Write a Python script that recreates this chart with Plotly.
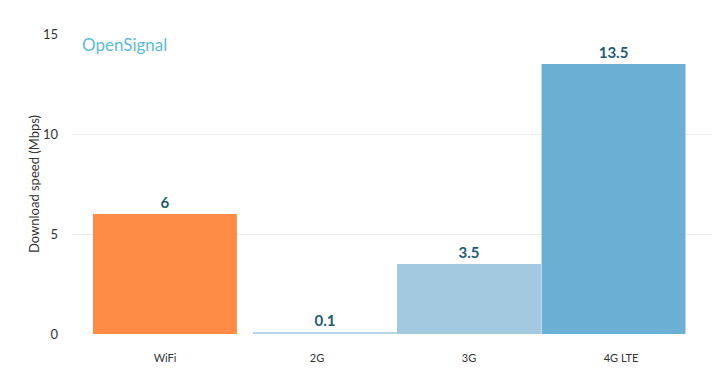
import plotly.graph_objects as go

categories = ["WiFi", "2G", "3G", "4G LTE"]
speeds = [6, 0.1, 3.5, 13.5]
labels = ["6", "0.1", "3.5", "13.5"]
y_ticks = [0, 5, 10, 15]

colors = ["#fd8b45", "#b7d6ea", "#a3c9e1", "#6cafd5"]
bar_width = 0.947
bar_offsets = [-0.474, -0.421, -0.474, -0.523]

fig = go.Figure()
for cat, val, lab, col, off in zip(categories, speeds, labels, colors, bar_offsets):
    fig.add_trace(go.Bar(
        x=[cat], y=[val], text=[lab],
        marker=dict(color=col, line=dict(width=0)),
        width=bar_width, offset=off,
        textposition="outside",
        textfont=dict(family="Lato", size=15, color="#1d5c73", weight="bold"),
        cliponaxis=False, showlegend=False,
    ))

fig.update_layout(
    width=720, height=374,
    margin=dict(l=64, r=8, t=26, b=48, autoexpand=False),
    paper_bgcolor="white", plot_bgcolor="white",
    barmode="overlay",
    font=dict(family="Lato", color="#333333", size=13),
    xaxis=dict(
        type="category", categoryorder="array", categoryarray=categories,
        range=[-0.612, 3.651], showgrid=False, zeroline=False, showline=False,
        ticks="", tickfont=dict(size=11, color="#333333"), ticklabelstandoff=16,
        automargin=False,
    ),
    yaxis=dict(
        range=[0, 15], tickvals=y_ticks, showgrid=True, gridcolor="#ececec",
        gridwidth=1, zeroline=False, showline=False, ticks="",
        tickfont=dict(size=13, color="#333333"), ticklabelstandoff=13,
        automargin=False,
        title=dict(text="Download speed (Mbps)", font=dict(size=13, color="#333333"), standoff=0),
    ),
    annotations=[dict(
        text="OpenSignal", xref="paper", yref="paper", x=0.012, y=1.008,
        xanchor="left", yanchor="top", showarrow=False,
        font=dict(family="Lato", size=17, color="#5bbcd8"),
    )],
)

fig.write_html("out.html")
